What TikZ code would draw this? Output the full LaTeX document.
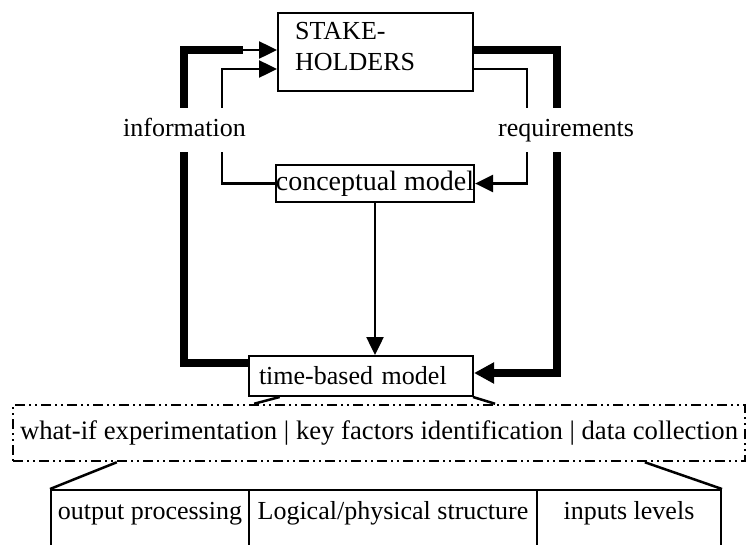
\documentclass[tikz,border=0pt]{standalone}
\usepackage{fontspec}
\setmainfont{Liberation Serif}
\usetikzlibrary{arrows.meta,calc}
\begin{document}
\begin{tikzpicture}[x=1pt,y=-1pt,
  box/.style={draw, line width=2pt, inner sep=0pt},
  txt/.style={font=\fontsize{26}{31}\selectfont},
  conn/.style={line width=2.5pt},
  thickconn/.style={line width=8pt},
  ar/.style={-{Triangle[length=18pt,width=17pt]}},
  bigar/.style={-{Triangle[length=20pt,width=20pt]}},
  dashbox/.style={draw, line width=2.5pt, dash pattern=on 10pt off 4pt on 2pt off 4pt on 2pt off 4pt},
  lbl/.style={txt, fill=white, inner xsep=2pt, inner ysep=10pt, text height=18pt, text depth=6pt}
]
\clip (0,0) rectangle (747,544);

% nodes
\node[box, minimum width=195pt, minimum height=78pt, anchor=north west] (sh) at (277,12) {};
\node[txt, anchor=north west, align=left, inner sep=0pt] (shtxt) at (295,22) {STAKE-\\HOLDERS};
\node[box, minimum width=194pt, minimum height=37pt, font=\fontsize{28}{33}\selectfont] (cm) at (375,183.5) {conceptual model};
\node[box, txt, minimum height=40pt, text width=204pt, inner xsep=10pt, align=left, anchor=north west] (tb) at (248,355) {time-based model};
\node[dashbox, minimum width=732pt, minimum height=56pt, inner sep=0pt, font=\fontsize{26.7}{31}\selectfont] (wi) at (379,433) {what-if experimentation | key factors identification | data collection};
\node[box, txt, minimum width=198pt, anchor=north west, text height=29pt, text depth=42pt] (op) at (50,489) {output processing};
\node[box, txt, minimum width=288pt, anchor=north west, text height=29pt, text depth=42pt] (lp) at (248,489) {Logical/physical structure};
\node[box, txt, minimum width=184pt, anchor=north west, text height=29pt, text depth=42pt] (il) at (536,489) {inputs levels};

% corner coordinates
\coordinate (lc) at (184,50);
\coordinate (lk) at (243,50);
\coordinate (rc) at (557,50);
\coordinate (rt) at (527,69);
\coordinate (lt) at (222,69);

% connectors
\draw[thickconn] ($(tb.north west)+(0,8)$) -| (lc) -- (lk);
\draw[conn, ar] (lk) -- ($(sh.north west)+(0,38)$);
\draw[thickconn, bigar] ($(sh.north east)+(0,38)$) -- (rc) |- ($(tb.north east)+(0,18)$);
\draw[conn, ar] ($(sh.north east)+(0,57)$) -- (rt) |- (cm.east);
\draw[conn, ar] (cm.west) -| (lt) -- ($(sh.north west)+(0,57)$);
\draw[conn, ar] (cm.south) -- (cm.south |- tb.north);

\draw[conn] ($(tb.south west)!0.14!(tb.south east)$) -- ($(wi.north west)!0.33!(wi.north east)$);
\draw[conn] ($(tb.south east)+(-1,0)$) -- ($(wi.north west)!0.658!(wi.north east)$);
\draw[conn] ($(wi.south west)!0.143!(wi.south east)$) -- (op.north west);
\draw[conn] ($(wi.south west)!0.862!(wi.south east)$) -- (il.north east);

% labels
\node[lbl] (info) at (184.5,130) {information};
\node[lbl] (req) at (566,130) {requirements};
\end{tikzpicture}
\end{document}
